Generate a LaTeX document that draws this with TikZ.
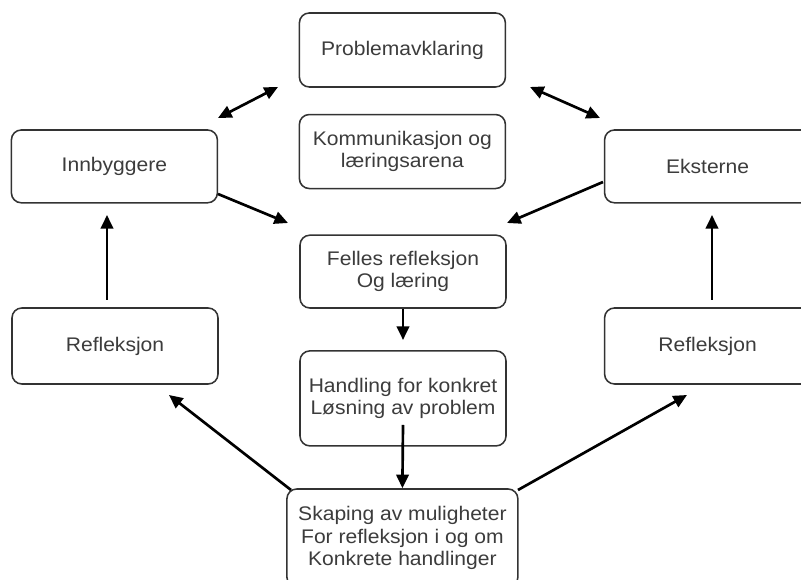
\documentclass[tikz,border=0pt]{standalone}
\usepackage{fontspec}
\setmainfont{Liberation Sans}[FakeStretch=1.07]
\usepackage{xcolor}
\usepackage{tikz}
\usetikzlibrary{arrows.meta, positioning}

\definecolor{txtgray}{HTML}{3C3C3C}
\definecolor{edgegray}{HTML}{333333}

\begin{document}
\begin{tikzpicture}[
    box/.style={rectangle, draw=edgegray, fill=white, line width=1.1pt, rounded corners=7pt, minimum width=5.15cm, minimum height=1.85cm, align=center, text=txtgray, font=\fontsize{14}{15.8}\selectfont},
    line/.style={draw=black, line width=1.9pt, -{Triangle[length=3.4mm, width=3.1mm]}},
    twoway/.style={draw=black, line width=1.9pt, {Triangle[length=3.4mm, width=3.1mm]}-{Triangle[length=3.4mm, width=3.1mm]}}
]
    \useasboundingbox (0,0) rectangle (20.025,14.5);

    \node[box] (prob) at (10.06,13.25) {Problemavklaring};
    \node[box, below=0.65cm of prob] (komm) {Kommunikasjon og\\læringsarena};
    \node[box, minimum height=1.82cm] (felles) at (10.075,7.71) {Felles refleksjon\\Og læring};
    \node[box, minimum height=2.375cm] (handling) at (10.075,4.54) {Handling for konkret\\Løsning av problem};
    \node[box, minimum width=5.775cm, minimum height=2.45cm] (skaping) at (10.06,1.05) {Skaping av muligheter\\For refleksjon i og om\\Konkrete handlinger};

    \node[box, minimum height=1.82cm] (innb) at (2.86,10.34) {Innbyggere};
    \node[box, minimum height=1.9cm] (reflL) at (2.875,5.85) {Refleksjon};
    \node[box, minimum height=1.82cm] (ekst) at (17.69,10.34) {Eksterne};
    \node[box, minimum height=1.9cm] (reflR) at (17.69,5.85) {Refleksjon};

    % Free ends of the connectors
    \coordinate (pl1) at (5.45,11.55);
    \coordinate (pl2) at (6.95,12.325);
    \coordinate (pr1) at (13.25,12.325);
    \coordinate (pr2) at (15.0,11.55);
    \coordinate (fl) at (7.2,8.925);
    \coordinate (fr) at (12.675,8.925);
    \coordinate (il) at (5.45,9.65);
    \coordinate (er) at (15.075,9.95);
    \coordinate (upL1) at (2.675,7.0);
    \coordinate (upL2) at (2.675,9.125);
    \coordinate (upR1) at (17.8,7.0);
    \coordinate (upR2) at (17.8,9.125);
    \coordinate (hin) at (10.075,6.0);
    \coordinate (hout) at (10.075,3.875);
    \coordinate (sl) at (7.275,2.25);
    \coordinate (sr) at (12.95,2.25);
    \coordinate (rl) at (4.225,4.625);
    \coordinate (rr) at (17.175,4.625);

    % Connections
    \draw[twoway] (pl1) -- (pl2);
    \draw[twoway] (pr1) -- (pr2);
    \draw[line] (il) -- (fl);
    \draw[line] (er) -- (fr);
    \draw[line] (upL1) -- (upL2);
    \draw[line] (upR1) -- (upR2);
    \draw[line] (felles.south) -- (hin);
    \draw[line] (hout) -- (skaping.north);
    \draw[line] (sl) -- (rl);
    \draw[line] (sr) -- (rr);
\end{tikzpicture}
\end{document}
